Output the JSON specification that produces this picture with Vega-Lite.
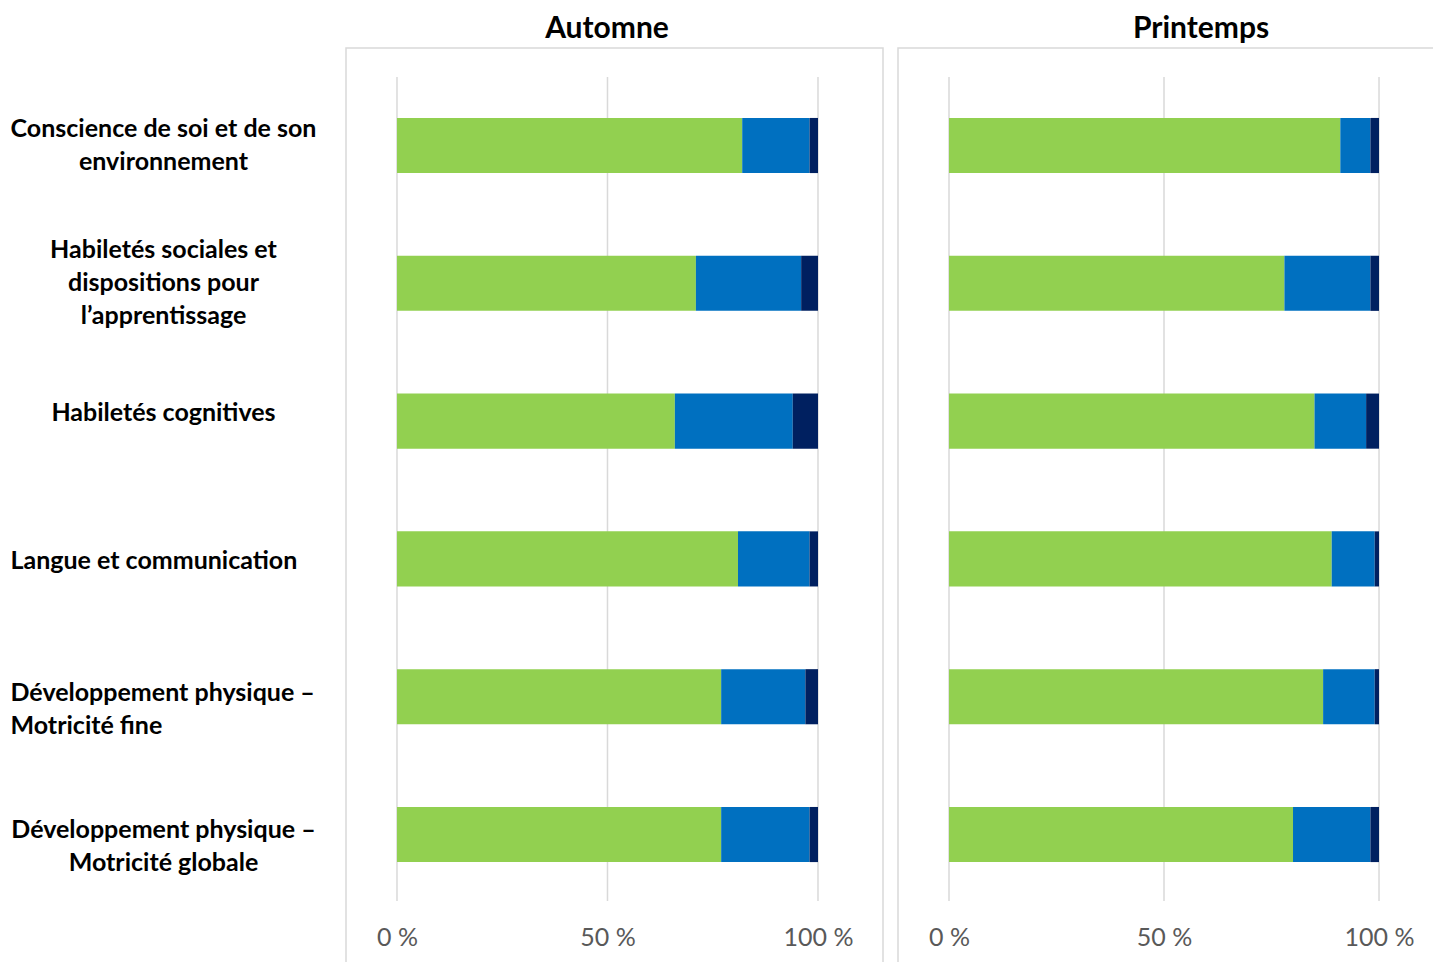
{
  "$schema": "https://vega.github.io/schema/vega-lite/v6.json",
  "padding": {"left": 9, "top": 13, "right": 0, "bottom": 0},
  "background": "white",
  "spacing": 13,
  "config": {
    "font": "Lato",
    "view": {"stroke": "#d9d9d9", "strokeWidth": 1.5},
    "title": {"font": "Lato", "fontSize": 30, "fontWeight": "bold", "color": "#000000", "anchor": "middle", "offset": 4}
  },
  "datasets": {
    "grid": [{"g": 0}, {"g": 50}, {"g": 100}],
    "bars": [
      {"saison": "Automne", "domaine": "Conscience de soi et de son environnement", "niveau": "Niveau 1", "ordre": 1, "pct": 82},
      {"saison": "Automne", "domaine": "Conscience de soi et de son environnement", "niveau": "Niveau 2", "ordre": 2, "pct": 16},
      {"saison": "Automne", "domaine": "Conscience de soi et de son environnement", "niveau": "Niveau 3", "ordre": 3, "pct": 2},
      {"saison": "Automne", "domaine": "Habiletés sociales et dispositions pour l’apprentissage", "niveau": "Niveau 1", "ordre": 1, "pct": 71},
      {"saison": "Automne", "domaine": "Habiletés sociales et dispositions pour l’apprentissage", "niveau": "Niveau 2", "ordre": 2, "pct": 25},
      {"saison": "Automne", "domaine": "Habiletés sociales et dispositions pour l’apprentissage", "niveau": "Niveau 3", "ordre": 3, "pct": 4},
      {"saison": "Automne", "domaine": "Habiletés cognitives", "niveau": "Niveau 1", "ordre": 1, "pct": 66},
      {"saison": "Automne", "domaine": "Habiletés cognitives", "niveau": "Niveau 2", "ordre": 2, "pct": 28},
      {"saison": "Automne", "domaine": "Habiletés cognitives", "niveau": "Niveau 3", "ordre": 3, "pct": 6},
      {"saison": "Automne", "domaine": "Langue et communication", "niveau": "Niveau 1", "ordre": 1, "pct": 81},
      {"saison": "Automne", "domaine": "Langue et communication", "niveau": "Niveau 2", "ordre": 2, "pct": 17},
      {"saison": "Automne", "domaine": "Langue et communication", "niveau": "Niveau 3", "ordre": 3, "pct": 2},
      {"saison": "Automne", "domaine": "Développement physique – Motricité fine", "niveau": "Niveau 1", "ordre": 1, "pct": 77},
      {"saison": "Automne", "domaine": "Développement physique – Motricité fine", "niveau": "Niveau 2", "ordre": 2, "pct": 20},
      {"saison": "Automne", "domaine": "Développement physique – Motricité fine", "niveau": "Niveau 3", "ordre": 3, "pct": 3},
      {"saison": "Automne", "domaine": "Développement physique – Motricité globale", "niveau": "Niveau 1", "ordre": 1, "pct": 77},
      {"saison": "Automne", "domaine": "Développement physique – Motricité globale", "niveau": "Niveau 2", "ordre": 2, "pct": 21},
      {"saison": "Automne", "domaine": "Développement physique – Motricité globale", "niveau": "Niveau 3", "ordre": 3, "pct": 2},
      {"saison": "Printemps", "domaine": "Conscience de soi et de son environnement", "niveau": "Niveau 1", "ordre": 1, "pct": 91},
      {"saison": "Printemps", "domaine": "Conscience de soi et de son environnement", "niveau": "Niveau 2", "ordre": 2, "pct": 7},
      {"saison": "Printemps", "domaine": "Conscience de soi et de son environnement", "niveau": "Niveau 3", "ordre": 3, "pct": 2},
      {"saison": "Printemps", "domaine": "Habiletés sociales et dispositions pour l’apprentissage", "niveau": "Niveau 1", "ordre": 1, "pct": 78},
      {"saison": "Printemps", "domaine": "Habiletés sociales et dispositions pour l’apprentissage", "niveau": "Niveau 2", "ordre": 2, "pct": 20},
      {"saison": "Printemps", "domaine": "Habiletés sociales et dispositions pour l’apprentissage", "niveau": "Niveau 3", "ordre": 3, "pct": 2},
      {"saison": "Printemps", "domaine": "Habiletés cognitives", "niveau": "Niveau 1", "ordre": 1, "pct": 85},
      {"saison": "Printemps", "domaine": "Habiletés cognitives", "niveau": "Niveau 2", "ordre": 2, "pct": 12},
      {"saison": "Printemps", "domaine": "Habiletés cognitives", "niveau": "Niveau 3", "ordre": 3, "pct": 3},
      {"saison": "Printemps", "domaine": "Langue et communication", "niveau": "Niveau 1", "ordre": 1, "pct": 89},
      {"saison": "Printemps", "domaine": "Langue et communication", "niveau": "Niveau 2", "ordre": 2, "pct": 10},
      {"saison": "Printemps", "domaine": "Langue et communication", "niveau": "Niveau 3", "ordre": 3, "pct": 1},
      {"saison": "Printemps", "domaine": "Développement physique – Motricité fine", "niveau": "Niveau 1", "ordre": 1, "pct": 87},
      {"saison": "Printemps", "domaine": "Développement physique – Motricité fine", "niveau": "Niveau 2", "ordre": 2, "pct": 12},
      {"saison": "Printemps", "domaine": "Développement physique – Motricité fine", "niveau": "Niveau 3", "ordre": 3, "pct": 1},
      {"saison": "Printemps", "domaine": "Développement physique – Motricité globale", "niveau": "Niveau 1", "ordre": 1, "pct": 80},
      {"saison": "Printemps", "domaine": "Développement physique – Motricité globale", "niveau": "Niveau 2", "ordre": 2, "pct": 18},
      {"saison": "Printemps", "domaine": "Développement physique – Motricité globale", "niveau": "Niveau 3", "ordre": 3, "pct": 2}
    ]
  },
  "hconcat": [
    {
      "width": 537,
      "height": 916,
      "title": {"text": "Automne", "dx": -7.5},
      "layer": [
        {
          "data": {"name": "grid"},
          "mark": {"type": "rule", "color": "#d9d9d9", "strokeWidth": 1.5},
          "encoding": {
            "x": {"field": "g", "type": "quantitative", "scale": {"domain": [-12.11, 115.44], "nice": false, "zero": false},
                  "axis": {"title": null, "values": [0, 50, 100], "labelExpr": "datum.value + ' %'", "domain": false, "ticks": false, "grid": false, "labelFont": "Lato", "labelFontSize": 25, "labelColor": "#595959", "labelBaseline": "top", "labelPadding": 0, "offset": -39, "labelFlush": false, "labelOverlap": false}},
            "y": {"datum": 0, "type": "quantitative", "scale": {"domain": [-0.07646, 1.03519], "nice": false, "zero": false}, "axis": null},
            "y2": {"datum": 1}
          }
        },
        {
          "data": {"name": "bars"},
          "transform": [{"filter": "datum.saison == 'Automne'"}],
          "mark": {"type": "bar"},
          "encoding": {
            "y": {
              "field": "domaine", "type": "nominal",
              "sort": ["Conscience de soi et de son environnement", "Habiletés sociales et dispositions pour l’apprentissage", "Habiletés cognitives", "Langue et communication", "Développement physique – Motricité fine", "Développement physique – Motricité globale"],
              "scale": {"paddingInner": 0.6, "paddingOuter": 0.6236, "align": 0.407},
              "axis": {
                "title": null, "domain": false, "ticks": false, "grid": false,
                "labelFont": "Lato", "labelFontSize": 25, "labelFontWeight": "bold", "labelColor": "#000000",
                "labelLineHeight": 33, "labelBaseline": "middle", "labelLimit": 500,
                "labelAlign": {"condition": {"test": "datum.value == 'Langue et communication' || datum.value == 'Développement physique – Motricité fine'", "value": "left"}, "value": "center"},
                "labelPadding": {"condition": {"test": "datum.value == 'Langue et communication' || datum.value == 'Développement physique – Motricité fine'", "value": 336}, "value": 183},
                "labelOffset": {"condition": [
                  {"test": "datum.value == 'Habiletés sociales et dispositions pour l’apprentissage'", "value": -33},
                  {"test": "datum.value == 'Conscience de soi et de son environnement'", "value": -17},
                  {"test": "datum.value == 'Habiletés cognitives'", "value": -8},
                  {"test": "datum.value == 'Langue et communication'", "value": 2},
                  {"test": "datum.value == 'Développement physique – Motricité fine'", "value": -3.5},
                  {"test": "datum.value == 'Développement physique – Motricité globale'", "value": -4.5}
                ], "value": 0},
                "labelExpr": "datum.value == 'Conscience de soi et de son environnement' ? ['Conscience de soi et de son', 'environnement'] : datum.value == 'Habiletés sociales et dispositions pour l’apprentissage' ? ['Habiletés sociales et', 'dispositions pour', 'l’apprentissage'] : datum.value == 'Développement physique – Motricité fine' ? ['Développement physique –', 'Motricité fine'] : datum.value == 'Développement physique – Motricité globale' ? ['Développement physique –', 'Motricité globale'] : datum.value"
              }
            },
            "x": {"field": "pct", "type": "quantitative", "stack": "zero", "scale": {"domain": [-12.11, 115.44], "nice": false, "zero": false},
                  "axis": {"title": null, "values": [0, 50, 100], "labelExpr": "datum.value + ' %'", "domain": false, "ticks": false, "grid": false, "labelFont": "Lato", "labelFontSize": 25, "labelColor": "#595959", "labelBaseline": "top", "labelPadding": 0, "offset": -39, "labelFlush": false, "labelOverlap": false}},
            "color": {"field": "niveau", "type": "nominal", "scale": {"domain": ["Niveau 1", "Niveau 2", "Niveau 3"], "range": ["#92d050", "#0070c0", "#002060"]}, "legend": null},
            "order": {"field": "ordre", "type": "quantitative"}
          }
        }
      ],
      "resolve": {"scale": {"y": "independent"}}
    },
    {
      "width": 537,
      "height": 916,
      "title": {"text": "Printemps", "dx": 34.5},
      "layer": [
        {
          "data": {"name": "grid"},
          "mark": {"type": "rule", "color": "#d9d9d9", "strokeWidth": 1.5},
          "encoding": {
            "x": {"field": "g", "type": "quantitative", "scale": {"domain": [-11.86, 113.02], "nice": false, "zero": false},
                  "axis": {"title": null, "values": [0, 50, 100], "labelExpr": "datum.value + ' %'", "domain": false, "ticks": false, "grid": false, "labelFont": "Lato", "labelFontSize": 25, "labelColor": "#595959", "labelBaseline": "top", "labelPadding": 0, "offset": -39, "labelFlush": false, "labelOverlap": false}},
            "y": {"datum": 0, "type": "quantitative", "scale": {"domain": [-0.07646, 1.03519], "nice": false, "zero": false}, "axis": null},
            "y2": {"datum": 1}
          }
        },
        {
          "data": {"name": "bars"},
          "transform": [{"filter": "datum.saison == 'Printemps'"}],
          "mark": {"type": "bar"},
          "encoding": {
            "y": {
              "field": "domaine", "type": "nominal",
              "sort": ["Conscience de soi et de son environnement", "Habiletés sociales et dispositions pour l’apprentissage", "Habiletés cognitives", "Langue et communication", "Développement physique – Motricité fine", "Développement physique – Motricité globale"],
              "scale": {"paddingInner": 0.6, "paddingOuter": 0.6236, "align": 0.407},
              "axis": null
            },
            "x": {"field": "pct", "type": "quantitative", "stack": "zero", "scale": {"domain": [-11.86, 113.02], "nice": false, "zero": false},
                  "axis": {"title": null, "values": [0, 50, 100], "labelExpr": "datum.value + ' %'", "domain": false, "ticks": false, "grid": false, "labelFont": "Lato", "labelFontSize": 25, "labelColor": "#595959", "labelBaseline": "top", "labelPadding": 0, "offset": -39, "labelFlush": false, "labelOverlap": false}},
            "color": {"field": "niveau", "type": "nominal", "scale": {"domain": ["Niveau 1", "Niveau 2", "Niveau 3"], "range": ["#92d050", "#0070c0", "#002060"]}, "legend": null},
            "order": {"field": "ordre", "type": "quantitative"}
          }
        }
      ],
      "resolve": {"scale": {"y": "independent"}}
    }
  ]
}
